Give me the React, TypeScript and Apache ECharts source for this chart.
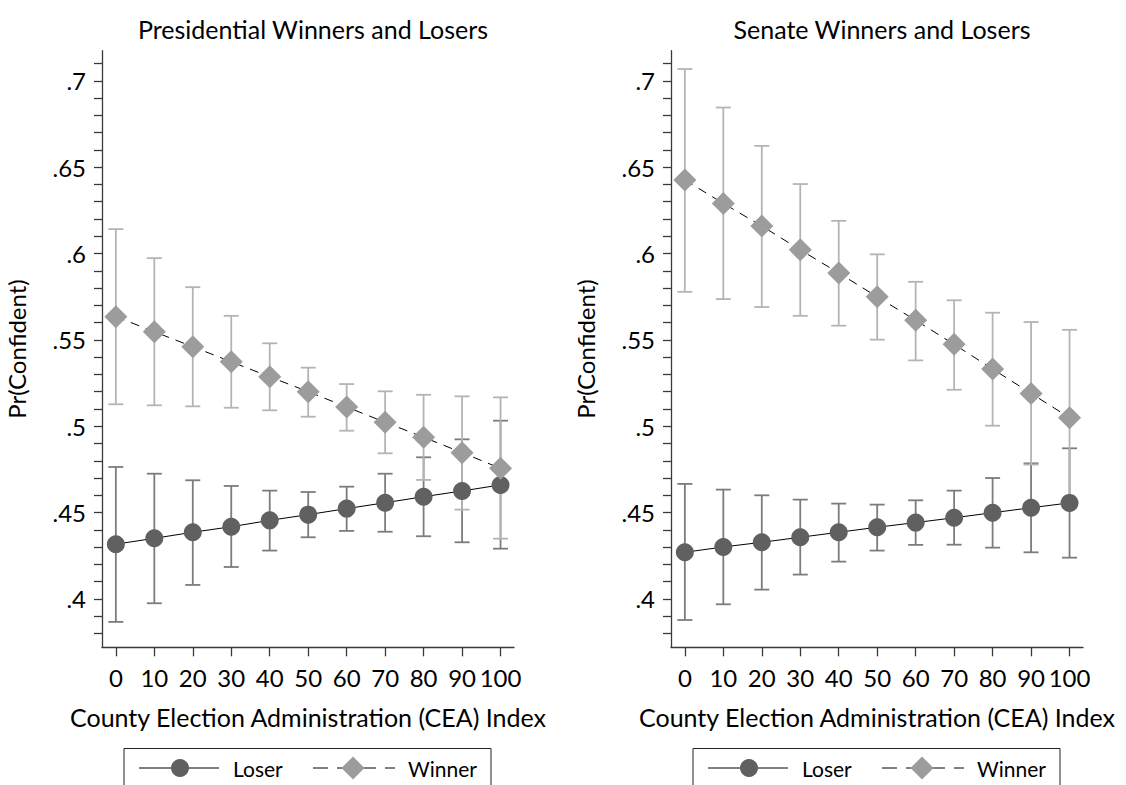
import React, { useEffect, useRef } from "react";
import * as echarts from "echarts";

// ---- data ----
const xVals = [0, 10, 20, 30, 40, 50, 60, 70, 80, 90, 100];
const xTickValues = [0, 10, 20, 30, 40, 50, 60, 70, 80, 90, 100];
const yLabelValues = [0.4, 0.45, 0.5, 0.55, 0.6, 0.65, 0.7];
const yTickValues = [
  0.38, 0.39, 0.4, 0.41, 0.42, 0.43, 0.44, 0.45, 0.46, 0.47, 0.48, 0.49, 0.5,
  0.51, 0.52, 0.53, 0.54, 0.55, 0.56, 0.57, 0.58, 0.59, 0.6, 0.61, 0.62, 0.63,
  0.64, 0.65, 0.66, 0.67, 0.68, 0.69, 0.7, 0.71,
];

const presLoser = [0.4317, 0.4351, 0.4386, 0.4418, 0.4455, 0.4488, 0.4523, 0.4557, 0.4592, 0.4625, 0.466];
const presLoserLo = [0.3867, 0.3975, 0.4081, 0.4185, 0.428, 0.4357, 0.4394, 0.4389, 0.4363, 0.4328, 0.4291];
const presLoserHi = [0.4764, 0.4725, 0.4687, 0.4654, 0.4627, 0.4619, 0.465, 0.4725, 0.482, 0.4924, 0.5032];
const presWinner = [0.5634, 0.5547, 0.546, 0.5373, 0.5286, 0.52, 0.5111, 0.5023, 0.4936, 0.4847, 0.4756];
const presWinnerLo = [0.5127, 0.5121, 0.5115, 0.5107, 0.5092, 0.5055, 0.4974, 0.4843, 0.4689, 0.4517, 0.4349];
const presWinnerHi = [0.6141, 0.5973, 0.5805, 0.5639, 0.548, 0.5339, 0.5244, 0.5202, 0.5182, 0.5173, 0.5167];

const senLoser = [0.427, 0.4301, 0.4328, 0.4357, 0.4386, 0.4415, 0.4442, 0.447, 0.4499, 0.4528, 0.4556];
const senLoserLo = [0.3878, 0.3969, 0.4054, 0.4141, 0.4216, 0.428, 0.4313, 0.4314, 0.4297, 0.427, 0.4239];
const senLoserHi = [0.4666, 0.4633, 0.46, 0.4575, 0.4552, 0.4546, 0.4571, 0.4627, 0.47, 0.4785, 0.4872];
const senWinner = [0.6425, 0.629, 0.6159, 0.6021, 0.5887, 0.5749, 0.5613, 0.5474, 0.5331, 0.519, 0.5049];
const senWinnerLo = [0.5778, 0.5736, 0.569, 0.5639, 0.5582, 0.5501, 0.5381, 0.5211, 0.5003, 0.4778, 0.454];
const senWinnerHi = [0.7068, 0.6845, 0.6623, 0.6402, 0.6189, 0.5995, 0.5836, 0.5729, 0.5657, 0.5603, 0.5558];

const panelTitles = ["Presidential Winners and Losers", "Senate Winners and Losers"];
const xTitle = "County Election Administration (CEA) Index";
const yTitle = "Pr(Confident)";
const seriesNames = ["Loser", "Winner"];

// ---- styles ----
const FONT = "Lato, 'Noto Sans', sans-serif";
const AXIS_COLOR = "#3a3a3a";
const LOSER_COLOR = "#606060";
const WINNER_COLOR = "#9c9c9c";
const LOSER_CI = "#7c7c7c";
const WINNER_CI = "#b4b4b4";

const GRID_TOP = 50.7;
const GRID_H = 596.6;
const GRID_W = 412;
const GRID_LEFTS = [102, 671];

function ciSeries(gridIdx: number, lo: number[], hi: number[], color: string, name: string) {
  return {
    type: "custom",
    name: name + " CI",
    xAxisIndex: gridIdx,
    yAxisIndex: gridIdx,
    silent: true,
    z: 1,
    data: xVals.map((x, i) => [x, lo[i], hi[i]]),
    encode: { x: 0, y: [1, 2] },
    renderItem: (params: any, api: any) => {
      const x = api.value(0);
      const pLo = api.coord([x, api.value(1)]);
      const pHi = api.coord([x, api.value(2)]);
      const w = 7.5;
      const style = { stroke: color, lineWidth: 1.8, fill: "none" };
      return {
        type: "group",
        children: [
          { type: "line", shape: { x1: pLo[0], y1: pLo[1], x2: pHi[0], y2: pHi[1] }, style },
          { type: "line", shape: { x1: pLo[0] - w, y1: pLo[1], x2: pLo[0] + w, y2: pLo[1] }, style },
          { type: "line", shape: { x1: pHi[0] - w, y1: pHi[1], x2: pHi[0] + w, y2: pHi[1] }, style },
        ],
      };
    },
  };
}

function lineSeries(gridIdx: number, vals: number[], name: string) {
  const isWinner = name === "Winner";
  return {
    type: "line",
    name,
    xAxisIndex: gridIdx,
    yAxisIndex: gridIdx,
    z: isWinner ? 4 : 3,
    data: xVals.map((x, i) => [x, vals[i]]),
    symbol: isWinner ? "diamond" : "circle",
    symbolSize: isWinner ? 23 : 18,
    showAllSymbol: true,
    itemStyle: { color: isWinner ? WINNER_COLOR : LOSER_COLOR },
    lineStyle: { color: "#000", width: 1, type: isWinner ? [9, 7] : "solid" },
  };
}

function legendGraphics(left: number) {
  const y = 768;
  const dx = (v: number) => left + v;
  const d = 11.5;
  const cx = dx(229);
  return [
    {
      type: "rect",
      shape: { x: left, y: 748.5, width: 367, height: 60 },
      style: { fill: "#fff", stroke: "#222", lineWidth: 1 },
      z: 10,
    },
    { type: "line", shape: { x1: dx(15), y1: y, x2: dx(95), y2: y }, style: { stroke: "#000", lineWidth: 1 }, z: 11 },
    { type: "circle", shape: { cx: dx(56), cy: y, r: 9 }, style: { fill: LOSER_COLOR }, z: 12 },
    {
      type: "text",
      x: dx(109),
      y,
      style: { text: seriesNames[0], font: `21px ${FONT}`, fill: "#000", verticalAlign: "middle", align: "left" },
      z: 12,
    },
    {
      type: "line",
      shape: { x1: dx(189), y1: y, x2: dx(271), y2: y },
      style: { stroke: "#000", lineWidth: 1, lineDash: [15, 9] },
      z: 11,
    },
    {
      type: "polygon",
      shape: { points: [[cx, y - d], [cx + d, y], [cx, y + d], [cx - d, y]] },
      style: { fill: WINNER_COLOR },
      z: 12,
    },
    {
      type: "text",
      x: dx(284),
      y,
      style: { text: seriesNames[1], font: `21px ${FONT}`, fill: "#000", verticalAlign: "middle", align: "left" },
      z: 12,
    },
  ];
}

export default function App() {
  const ref = useRef<HTMLDivElement>(null);

  useEffect(() => {
    document.body.style.margin = "0";
    if (!ref.current) return;
    const chart = echarts.init(ref.current, null, { renderer: "svg" });

    const grids = GRID_LEFTS.map((l) => ({ left: l, top: GRID_TOP, width: GRID_W, height: GRID_H }));

    const xAxes = GRID_LEFTS.map((_, i) => ({
      type: "value",
      gridIndex: i,
      min: -3.6,
      max: 103.5,
      name: xTitle,
      nameLocation: "middle",
      nameGap: 57,
      nameTextStyle: { fontFamily: FONT, fontSize: 25, color: "#000" },
      axisLine: { show: true, onZero: false, lineStyle: { color: AXIS_COLOR, width: 1.3 } },
      axisTick: { show: true, length: 9, customValues: xTickValues, lineStyle: { color: AXIS_COLOR, width: 1.3 } },
      axisLabel: { customValues: xTickValues, margin: 18, fontFamily: FONT, fontSize: 24, color: "#000" },
      splitLine: { show: false },
    }));

    const yAxes = GRID_LEFTS.map((_, i) => ({
      type: "value",
      gridIndex: i,
      min: 0.372,
      max: 0.7174,
      name: yTitle,
      nameLocation: "middle",
      nameGap: 74,
      nameRotate: 90,
      nameTextStyle: { fontFamily: FONT, fontSize: 24, color: "#000" },
      axisLine: { show: true, onZero: false, lineStyle: { color: AXIS_COLOR, width: 1.3 } },
      axisTick: { show: true, length: 8, customValues: yTickValues, lineStyle: { color: AXIS_COLOR, width: 1.3 } },
      axisLabel: {
        customValues: yLabelValues,
        margin: 16,
        fontFamily: FONT,
        fontSize: 24,
        color: "#000",
        formatter: (v: number) => String(Number(v.toFixed(2))).replace(/^0/, ""),
      },
      splitLine: { show: false },
    }));

    const titles = GRID_LEFTS.map((l, i) => ({
      text: panelTitles[i],
      left: l + GRID_W / 2,
      top: 11,
      textAlign: "center",
      textStyle: { fontFamily: FONT, fontSize: 25, fontWeight: "normal", color: "#000" },
    }));

    chart.setOption({
      animation: false,
      backgroundColor: "#fff",
      title: titles,
      grid: grids,
      xAxis: xAxes,
      yAxis: yAxes,
      series: [
        ciSeries(0, presLoserLo, presLoserHi, LOSER_CI, "Loser"),
        ciSeries(0, presWinnerLo, presWinnerHi, WINNER_CI, "Winner"),
        lineSeries(0, presLoser, "Loser"),
        lineSeries(0, presWinner, "Winner"),
        ciSeries(1, senLoserLo, senLoserHi, LOSER_CI, "Loser"),
        ciSeries(1, senWinnerLo, senWinnerHi, WINNER_CI, "Winner"),
        lineSeries(1, senLoser, "Loser"),
        lineSeries(1, senWinner, "Winner"),
      ],
      graphic: [...legendGraphics(124), ...legendGraphics(693)],
    });

    return () => chart.dispose();
  }, []);

  return <div ref={ref} style={{ width: 1126, height: 785 }} />;
}
